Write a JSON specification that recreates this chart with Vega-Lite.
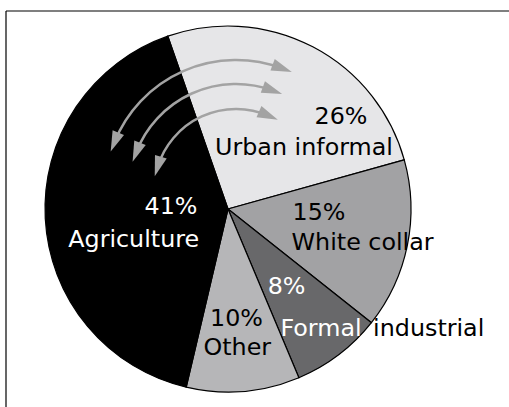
{
  "$schema": "https://vega.github.io/schema/vega-lite/v6.json",
  "width": 504,
  "height": 397,
  "padding": {"left": 5, "top": 10, "right": 0, "bottom": 0},
  "background": "white",
  "config": {"view": {"stroke": null}},
  "datasets": {
    "sectors": [
      {"sector": "Urban informal", "share": 26, "order": 1},
      {"sector": "White collar", "share": 15, "order": 2},
      {"sector": "Formal industrial", "share": 8, "order": 3},
      {"sector": "Other", "share": 10, "order": 4},
      {"sector": "Agriculture", "share": 41, "order": 5}
    ],
    "arrows": [
      {"arrow": "outer", "r": 71.6, "from": -68.1, "to": 20.6},
      {"arrow": "middle", "r": 58.5, "from": -68.75, "to": 19.95},
      {"arrow": "inner", "r": 44.8, "from": -72.6, "to": 23.3}
    ],
    "heads": [
      {"arrow": "outer", "end": "left", "x": -62.02, "y": 36.56, "rot": -158.1},
      {"arrow": "outer", "end": "right", "x": 29.62, "y": 76.83, "rot": 110.6},
      {"arrow": "middle", "end": "left", "x": -50.11, "y": 31.04, "rot": -158.75},
      {"arrow": "middle", "end": "right", "x": 24.32, "y": 64.81, "rot": 109.95},
      {"arrow": "inner", "end": "left", "x": -38.36, "y": 23.22, "rot": -162.6},
      {"arrow": "inner", "end": "right", "x": 22.08, "y": 50.98, "rot": 113.3}
    ],
    "labels": [
      {"text": "26%", "x": 61.75, "y": 46.45},
      {"text": "Urban informal", "x": 41.53, "y": 29.51},
      {"text": "41%", "x": -31.15, "y": -2.73},
      {"text": "Agriculture", "x": -51.53, "y": -20.77},
      {"text": "15%", "x": 49.73, "y": -6.01},
      {"text": "White collar", "x": 73.55, "y": -22.4},
      {"text": "8%", "x": 31.97, "y": -46.45},
      {"text": "Formal", "x": 50.82, "y": -69.4},
      {"text": "industrial", "x": 109.67, "y": -69.4},
      {"text": "10%", "x": 4.64, "y": -63.93},
      {"text": "Other", "x": 5.08, "y": -79.78}
    ],
    "frame": [{"edge": "frame"}]
  },
  "resolve": {"scale": {"theta": "independent"}},
  "layer": [
    {
      "data": {"name": "sectors"},
      "mark": {"type": "arc", "outerRadius": 183, "stroke": "black", "strokeWidth": 1.2},
      "encoding": {
        "x": {"datum": 0, "type": "quantitative", "scale": {"domain": [-121.31, 154.1], "nice": false, "zero": false}, "axis": null},
        "y": {"datum": 0, "type": "quantitative", "scale": {"domain": [-108.74, 108.2], "nice": false, "zero": false}, "axis": null},
        "theta": {"field": "share", "type": "quantitative", "stack": true, "scale": {"domain": [0, 100], "range": [-0.335, 5.948]}},
        "order": {"field": "order", "type": "quantitative"},
        "color": {
          "field": "sector",
          "type": "nominal",
          "scale": {
            "domain": ["Urban informal", "White collar", "Formal industrial", "Other", "Agriculture"],
            "range": ["#e6e6e8", "#a2a2a4", "#68686a", "#b6b6b8", "#000000"]
          },
          "legend": null
        }
      }
    },
    {
      "data": {"name": "arrows"},
      "mark": {"type": "arc", "filled": false, "stroke": "#a3a3a3", "strokeWidth": 2.5},
      "encoding": {
        "x": {"datum": 4.37, "type": "quantitative", "axis": null},
        "y": {"datum": 9.84, "type": "quantitative", "axis": null},
        "theta": {"field": "from", "type": "quantitative", "stack": null, "scale": {"domain": [0, 360], "range": [0, 6.283185]}},
        "theta2": {"field": "to"},
        "radius": {"field": "r", "type": "quantitative", "scale": {"type": "linear", "domain": [0, 100], "range": [0, 183], "zero": true}},
        "radius2": {"field": "r"}
      }
    },
    {
      "data": {"name": "heads"},
      "mark": {"type": "point", "shape": "M0,-1L0.6,1L-0.6,1Z", "filled": true, "fill": "#a3a3a3", "strokeWidth": 0, "size": 420, "opacity": 1},
      "encoding": {
        "x": {"field": "x", "type": "quantitative", "axis": null},
        "y": {"field": "y", "type": "quantitative", "axis": null},
        "angle": {"field": "rot", "type": "quantitative", "scale": null}
      }
    },
    {
      "data": {"name": "labels"},
      "mark": {"type": "text", "font": "DejaVu Sans", "fontSize": 23.8, "align": "center", "baseline": "alphabetic"},
      "encoding": {
        "x": {"field": "x", "type": "quantitative", "axis": null},
        "y": {"field": "y", "type": "quantitative", "axis": null},
        "text": {"field": "text"},
        "color": {
          "condition": {"test": "indexof(['41%', 'Agriculture', '8%', 'Formal'], datum.text) >= 0", "value": "white"},
          "value": "black"
        }
      }
    },
    {
      "data": {"name": "frame"},
      "mark": {"type": "rule", "color": "black", "strokeWidth": 1.2},
      "encoding": {
        "y": {"datum": 108.2, "type": "quantitative", "axis": null}
      }
    },
    {
      "data": {"name": "frame"},
      "mark": {"type": "rule", "color": "black", "strokeWidth": 1.2},
      "encoding": {
        "x": {"datum": -121.31, "type": "quantitative", "axis": null}
      }
    }
  ]
}
